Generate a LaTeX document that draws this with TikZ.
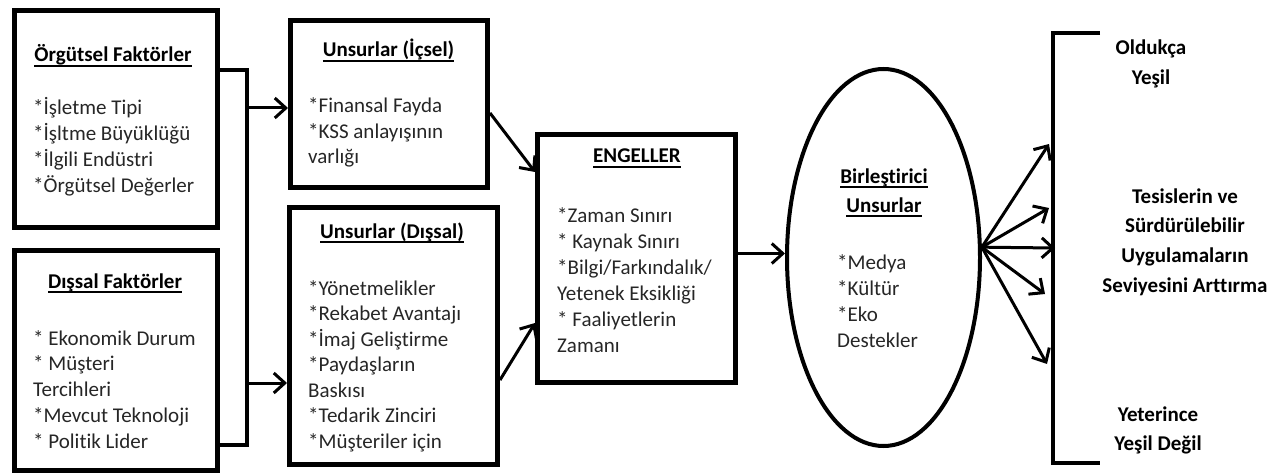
\documentclass[tikz,border=0pt]{standalone}
\usepackage{fontspec}
\setmainfont{Carlito}[Ligatures=NoCommon]
\usetikzlibrary{arrows.meta,shapes.geometric}
% underline with a fixed depth below the baseline
\newcommand{\undl}[1]{\setbox0\hbox{#1}\rlap{\rule[-4.6pt]{\wd0}{1.4pt}}\box0}
\begin{document}
\begin{tikzpicture}[x=1pt,y=-1pt,
  box/.style={draw, line width=5pt, inner sep=0pt, rectangle},
  body/.style={font=\fontsize{21}{25}\selectfont, text=black!85, inner sep=0pt, anchor=base west},
  head/.style={font=\fontsize{21}{25}\selectfont\bfseries, inner sep=0pt, anchor=base},
  link/.style={line width=3.5pt},
  arr/.style={line width=3pt, -{Straight Barb[length=11pt,width=20pt]}},
]
\useasboundingbox (0,0) rectangle (1285,476);

% frames
\node[box, minimum width=203pt, minimum height=217pt] (b1) at (116,119) {};
\node[box, minimum width=203pt, minimum height=220pt] (b2) at (116,360.5) {};
\node[box, minimum width=197pt, minimum height=167pt] (b3) at (389,104) {};
\node[box, minimum width=208pt, minimum height=257pt] (b4) at (393.5,336) {};
\node[box, minimum width=198pt, minimum height=248pt] (b5) at (636.5,258.5) {};
\node[draw, ellipse, line width=4pt, inner sep=0pt, minimum width=193pt, minimum height=377pt] (el) at (883.5,257.5) {};

% box texts
\node[head] (h1) at (113,62) {\undl{Örgütsel Faktörler}};
\foreach \s [count=\i] in {*İşletme Tipi, *İşltme Büyüklüğü, *İlgili Endüstri, *Örgütsel Değerler}
  \node[body] (b1-\i) at ({33},{115+26*(\i-1)}) {\s};

\node[head] (h2) at (115,288) {\undl{Dışsal Faktörler}};
\foreach \s [count=\i] in {* Ekonomik Durum, * Müşteri, Tercihleri, *Mevcut Teknoloji, * Politik Lider}
  \node[body] (b2-\i) at ({33},{345+25.8*(\i-1)}) {\s};

\node[head] (h3) at (388.5,57) {\undl{Unsurlar (İçsel)}};
\foreach \s [count=\i] in {*Finansal Fayda, *KSS anlayışının, varlığı}
  \node[body] (b3-\i) at ({308},{113+25.5*(\i-1)}) {\s};

\node[head] (h4) at (392,238) {\undl{Unsurlar (Dışsal)}};
\foreach \s [count=\i] in {*Yönetmelikler, *Rekabet Avantajı, *İmaj Geliştirme, *Paydaşların, Baskısı, *Tedarik Zinciri, *Müşteriler için}
  \node[body] (b4-\i) at ({308},{295+25.5*(\i-1)}) {\s};

\node[head] (h5) at (637,163) {\undl{ENGELLER}};
\foreach \s [count=\i] in {*Zaman Sınırı, * Kaynak Sınırı, *Bilgi/Farkındalık/, Yetenek Eksikliği, * Faaliyetlerin, Zamanı}
  \node[body] (b5-\i) at ({557},{222+26*(\i-1)}) {\s};

\node[head] (h6a) at (884,183) {\undl{Birleştirici}};
\node[head] (h6b) at (884,212) {\undl{Unsurlar}};
\foreach \s [count=\i] in {*Medya, *Kültür, *Eko, Destekler}
  \node[body] (el-\i) at ({837},{269+26*(\i-1)}) {\s};

% outcome labels
\node[head] (o1) at (1151,55) {Oldukça};
\node[head] (o2) at (1151,85) {Yeşil};
\foreach \s [count=\i] in {Tesislerin ve, Sürdürülebilir, Uygulamaların, Seviyesini Arttırma}
  \node[head] (m-\i) at ({1185},{203+29.7*(\i-1)}) {\s};
\node[head] (u1) at (1158,421) {Yeterince};
\node[head] (u2) at (1158,450) {Yeşil Değil};

% joining line of the two factor boxes
\coordinate (j1) at (247,70);
\coordinate (j2) at (247,445);
\coordinate (a1) at (247,108);
\coordinate (a2) at (247,383);
\draw[link] (b1.east |- j1) -- (j1) -- (j2) -- (b2.east |- j2);
\draw[arr] (a1) -- (b3.west |- a1);
\draw[arr] (a2) -- (b4.west |- a2);

% into the barriers, then to the ellipse
\draw[arr] ([yshift=-9pt]b3.east) -- ([yshift=-40pt]b5.north west);
\draw[arr] ([yshift=-44pt]b4.east) -- ([yshift=-64.5pt]b5.west);
\draw[arr] ([yshift=5pt]b5.east) -- ([yshift=4pt]el.west);

% bracket of outcomes
\coordinate (k1) at (1100,33);
\coordinate (k2) at (1053,33);
\coordinate (k3) at (1053,463);
\coordinate (k4) at (1100,463);
\draw[line width=4.5pt] (k1) -- (k2) -- (k3) -- (k4);

% fan of arrows to the bracket
\coordinate (r1) at (1049,144);
\coordinate (r2) at (1049,208);
\coordinate (r3) at (1055,248);
\coordinate (r4) at (1045,294);
\coordinate (r5) at (1047,364);
\foreach \k in {1,...,5}
  \draw[arr] (el.6) -- (r\k);
\end{tikzpicture}
\end{document}
